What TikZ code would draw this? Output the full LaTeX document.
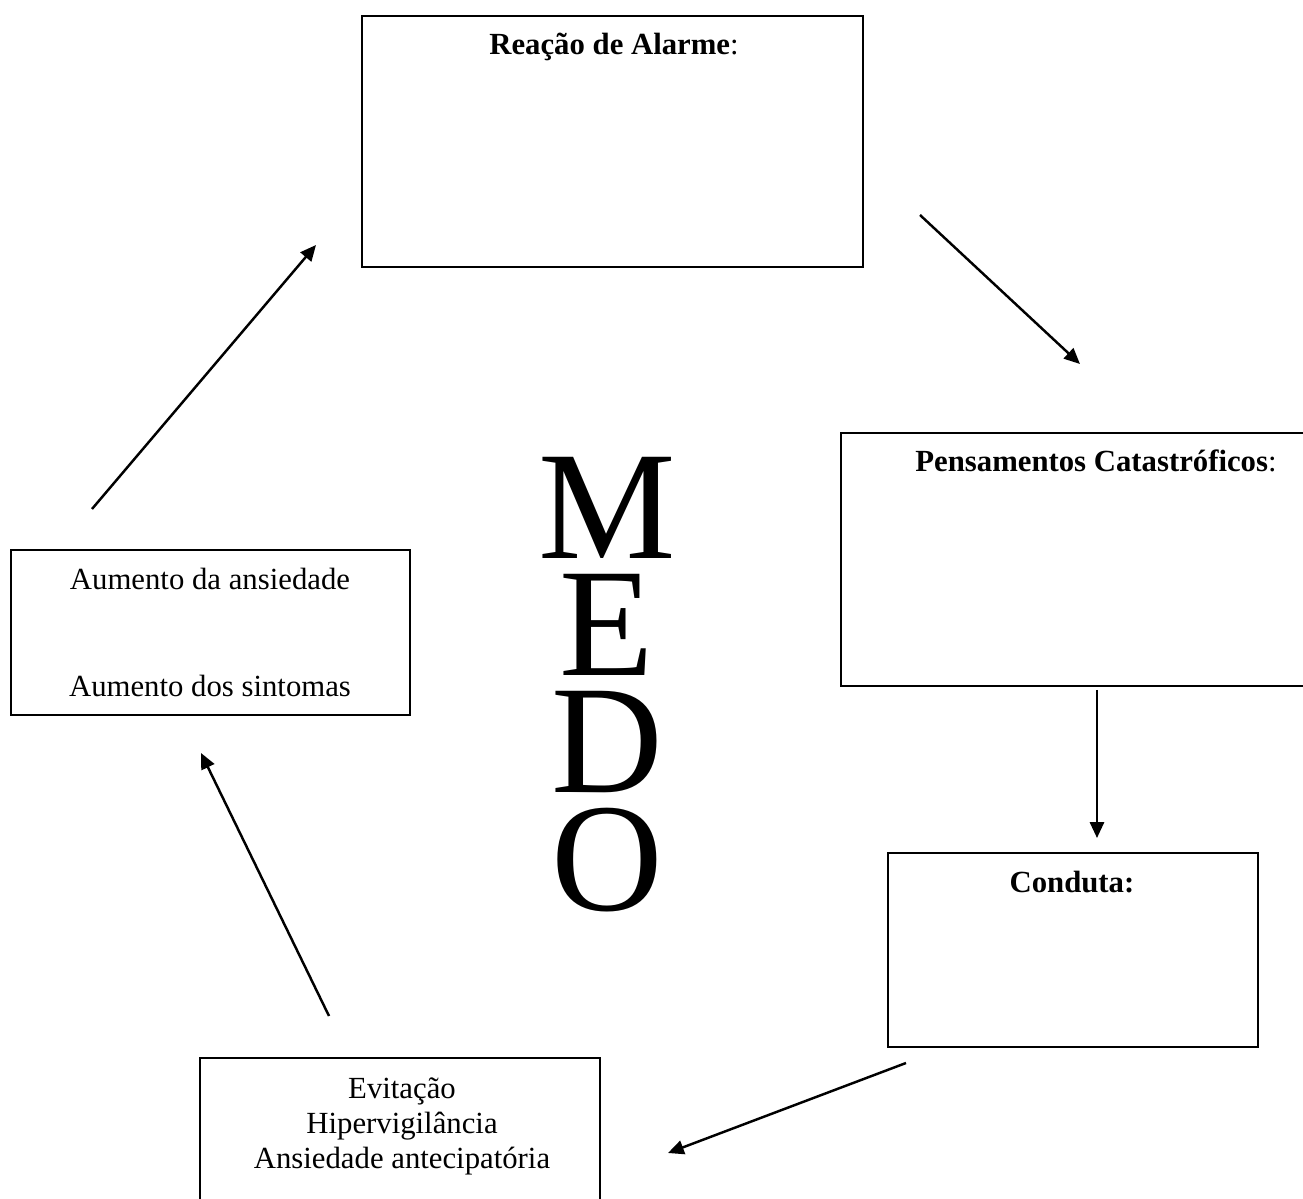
\documentclass[tikz,border=0pt]{standalone}
\usepackage{fontspec}
\setmainfont{Liberation Serif}
\usetikzlibrary{fit,arrows.meta}
\begin{document}
\begin{tikzpicture}[x=0.02cm,y=-0.02cm,
  box/.style={draw, line width=1.1pt, inner sep=0pt},
  txt/.style={anchor=base, inner sep=0pt, font=\fontsize{17.5}{20}\selectfont},
  big/.style={anchor=base, inner sep=0pt, align=center, font=\fontsize{88}{66.6}\selectfont},
  arr/.style={line width=1.4pt, -{Triangle[length=9pt,width=8pt]}}]
\clip (0,0) rectangle (1303,1199);
\node[box, fit={(362,16) (863,267)}] (alarme) {};
\node[box, fit={(841,433) (1351,686)}] (pens) {};
\node[box, fit={(888,853) (1258,1047)}] (conduta) {};
\node[box, fit={(11,550) (410,715)}] (aumento) {};
\node[box, fit={(200,1058) (600,1230)}] (evit) {};
\node[txt] (alarmetxt) at (614,55) {\textbf{Reação de Alarme}:};
\node[txt] (penstxt) at (1096,472) {\textbf{Pensamentos Catastróficos}:};
\node[txt] (condutatxt) at (1072,892) {\textbf{Conduta:}};
\node[txt] (aumentoA) at (210,590) {Aumento da ansiedade};
\node[txt] (aumentoB) at (210,697) {Aumento dos sintomas};
\node[txt] (evitA) at (402,1098) {Evitação};
\node[txt] (evitB) at (402,1133) {Hipervigilância};
\node[txt] (evitC) at (402,1168) {Ansiedade antecipatória};
\node[big] (medo) at (607,910) {M\\E\\D\\O};
\coordinate (A) at (920,215);
\coordinate (B) at (1080,364);
\coordinate (C) at (1097,690);
\coordinate (D) at (1097,838);
\coordinate (E) at (906,1063);
\coordinate (F) at (668,1153);
\coordinate (G) at (329,1016);
\coordinate (H) at (201,753);
\coordinate (I) at (92,509);
\coordinate (J) at (316,245);
\draw[arr] (A) -- (B);
\draw[arr] (C) -- (D);
\draw[arr] (E) -- (F);
\draw[arr] (G) -- (H);
\draw[arr] (I) -- (J);
\end{tikzpicture}
\end{document}
